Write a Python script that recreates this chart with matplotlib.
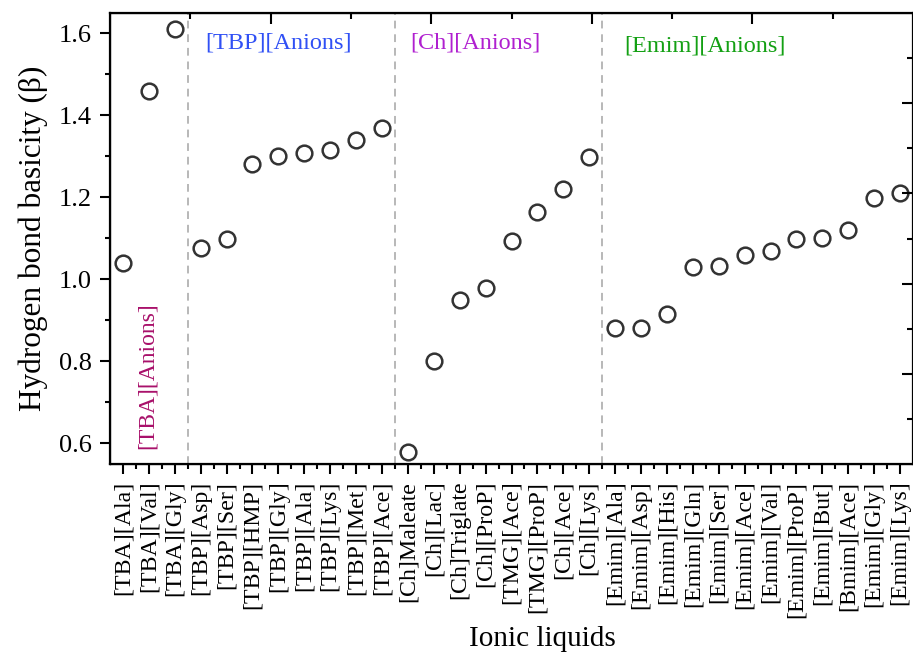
import matplotlib
matplotlib.use("Agg")
import matplotlib.pyplot as plt
import numpy as np

plt.rcParams["font.family"] = ["Liberation Serif", "DejaVu Serif"]

# categories, grouped by cation family
tba_names = ["[TBA][Ala]", "[TBA][Val]", "[TBA][Gly]"]
tba_beta = [1.04, 1.46, 1.61]

tbp_names = ["[TBP][Asp]", "[TBP][Ser]", "[TBP][HMP]", "[TBP][Gly]",
             "[TBP][Ala]", "[TBP][Lys]", "[TBP][Met]", "[TBP][Ace]"]
tbp_beta = [1.075, 1.098, 1.28, 1.30, 1.307, 1.316, 1.339, 1.369]

ch_names = ["[Ch]Maleate", "[Ch][Lac]", "[Ch]Triglate", "[Ch][ProP]",
            "[TMG][Ace]", "[TMG][ProP]", "[Ch][Ace]", "[Ch][Lys]"]
ch_beta = [0.579, 0.80, 0.949, 0.979, 1.094, 1.163, 1.219, 1.299]

emim_names = ["[Emim][Ala]", "[Emim][Asp]", "[Emim][His]", "[Emim][Gln]",
              "[Emim][Ser]", "[Emim][Ace]", "[Emim][Val]", "[Emim][ProP]",
              "[Emim][But]", "[Bmim][Ace]", "[Emim][Gly]", "[Emim][Lys]"]
emim_beta = [0.880, 0.880, 0.915, 1.03, 1.031, 1.059, 1.068, 1.099,
             1.10, 1.12, 1.198, 1.21]

group_labels = ["[TBA][Anions]", "[TBP][Anions]", "[Ch][Anions]", "[Emim][Anions]"]
group_colors = ["#A8106A", "#3050F5", "#B020D0", "#13A013"]

names = tba_names + tbp_names + ch_names + emim_names
beta = tba_beta + tbp_beta + ch_beta + emim_beta
sizes = [len(tba_names), len(tbp_names), len(ch_names), len(emim_names)]

x = np.arange(len(names))

fig = plt.figure(figsize=(9.13, 6.54), dpi=100)
ax = fig.add_axes([0.1205, 0.2905, 0.8795, 0.6895])

ax.plot(x, beta, linestyle="none", marker="o", markersize=11.3,
        markerfacecolor="none", markeredgecolor="#333333",
        markeredgewidth=1.8, zorder=3)

# group separators
bounds = np.cumsum(sizes)[:-1] - 0.5
for b in bounds:
    ax.axvline(b, color="#B8B8B8", linestyle=(0, (4, 3)), linewidth=1.4,
               zorder=1)

ax.set_xlim(-0.5, len(names) - 0.5)
ax.set_ylim(0.549, 1.649)

ax.set_xticks(x)
ax.set_xticks(x[:-1] + 0.5, minor=True)
ax.set_xticklabels(names, rotation=90, fontsize=17.2)
ax.set_yticks(np.arange(0.6, 1.61, 0.2))
ax.set_yticks(np.arange(0.7, 1.61, 0.2), minor=True)
ax.set_yticklabels([f"{v:.1f}" for v in np.arange(0.6, 1.61, 0.2)],
                   fontsize=19)

ax.tick_params(which="major", direction="out", length=7, width=1.5, pad=6)
ax.tick_params(which="minor", direction="out", length=3.5, width=1.5)
ax.tick_params(axis="x", which="major", pad=5)
for s in ax.spines.values():
    s.set_linewidth(1.6)

ax.set_xlabel("Ionic liquids", fontsize=21)
ax.xaxis.set_label_coords(0.538, -0.36)
ax.set_ylabel("Hydrogen bond basicity (β)", fontsize=22.5, labelpad=8)

# group labels
ax.text(0.93, 0.585, group_labels[0], color=group_colors[0], fontsize=17,
        rotation=90, ha="center", va="bottom")
ax.text(3.17, 1.576, group_labels[1], color=group_colors[1], fontsize=17.5,
        ha="left", va="center")
ax.text(11.08, 1.576, group_labels[2], color=group_colors[2], fontsize=17.5,
        ha="left", va="center")
ax.text(19.34, 1.568, group_labels[3], color=group_colors[3], fontsize=17.5,
        ha="left", va="center")

# inward ticks on top and right (unlabelled)
ax_t = ax.twiny()
ax_t.set_xlim(0, 10)
ax_t.set_xticks([2, 4, 6, 8])
ax_t.set_xticks([1, 3, 5, 7, 9], minor=True)
ax_t.tick_params(axis="x", which="major", direction="in", length=8,
                 width=1.5, labeltop=False)
ax_t.tick_params(axis="x", which="minor", direction="in", length=4,
                 width=1.5)

ax_r = ax.twinx()
ax_r.set_ylim(0, 10)
ax_r.set_yticks([2, 4, 6, 8])
ax_r.set_yticks([1, 3, 5, 7, 9], minor=True)
ax_r.tick_params(axis="y", which="major", direction="in", length=8,
                 width=1.5, labelright=False)
ax_r.tick_params(axis="y", which="minor", direction="in", length=4,
                 width=1.5)

fig.savefig("out.png", dpi=100)
